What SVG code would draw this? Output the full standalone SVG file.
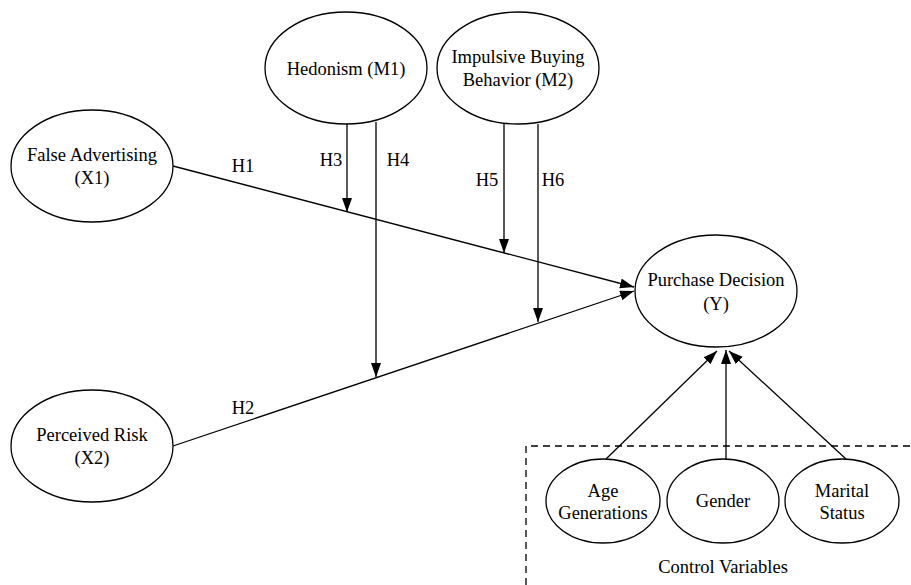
<svg xmlns="http://www.w3.org/2000/svg" width="911" height="585" viewBox="0 0 911 585" font-family="Liberation Serif, Times New Roman, serif">
<style>
.n{fill:#fff;stroke:#000;stroke-width:1.3}
.t{font-size:18.5px;fill:#000;text-anchor:middle}
.e{stroke:#000;stroke-width:1.3;fill:none;marker-end:url(#a)}
</style>
<defs>
<marker id="a" markerUnits="userSpaceOnUse" markerWidth="15" markerHeight="11" refX="14" refY="5" orient="auto">
<path d="M0,0 L14,5 L0,10 z" fill="#000"/>
</marker>
</defs>
<rect width="911" height="585" fill="#fff"/>
<g id="control-box">
<path d="M526,585 V446 H911" fill="none" stroke="#000" stroke-width="1.3" stroke-dasharray="7,5"/>
<text class="t" x="723" y="573">Control Variables</text>
</g>
<g id="connectors">
<path class="e" d="M173,166 L634,287"/>
<path class="e" d="M173,446 L634,291"/>
<path class="e" d="M347,124 V212"/>
<path class="e" d="M376,122 V377"/>
<path class="e" d="M504,124 V253"/>
<path class="e" d="M538,124 V322"/>
<path class="e" d="M606,459 L717,351"/>
<path class="e" d="M726,459 V350"/>
<path class="e" d="M846,459 L729,351"/>
<text class="t" x="243" y="172">H1</text>
<text class="t" x="243" y="414">H2</text>
<text class="t" x="331" y="166">H3</text>
<text class="t" x="398" y="166">H4</text>
<text class="t" x="487" y="186">H5</text>
<text class="t" x="553" y="186">H6</text>
</g>
<g id="hedonism">
<ellipse class="n" cx="346" cy="68" rx="81" ry="56"/>
<text class="t" x="346" y="75">Hedonism (M1)</text>
</g>
<g id="impulsive">
<ellipse class="n" cx="518" cy="68" rx="81" ry="56"/>
<text class="t" x="518" y="63">Impulsive Buying</text>
<text class="t" x="518" y="86">Behavior (M2)</text>
</g>
<g id="false-advertising">
<ellipse class="n" cx="92" cy="166" rx="81" ry="56"/>
<text class="t" x="92" y="161">False Advertising</text>
<text class="t" x="92" y="184">(X1)</text>
</g>
<g id="perceived-risk">
<ellipse class="n" cx="92" cy="446" rx="81" ry="56"/>
<text class="t" x="92" y="441">Perceived Risk</text>
<text class="t" x="92" y="464">(X2)</text>
</g>
<g id="purchase-decision">
<ellipse class="n" cx="716" cy="291" rx="81" ry="56"/>
<text class="t" x="716" y="286">Purchase Decision</text>
<text class="t" x="716" y="310">(Y)</text>
</g>
<g id="age">
<ellipse class="n" cx="603" cy="501" rx="57" ry="42"/>
<text class="t" x="603" y="497">Age</text>
<text class="t" x="603" y="519">Generations</text>
</g>
<g id="gender">
<ellipse class="n" cx="723" cy="501" rx="56" ry="42"/>
<text class="t" x="723" y="507">Gender</text>
</g>
<g id="marital">
<ellipse class="n" cx="842" cy="501" rx="57" ry="42"/>
<text class="t" x="842" y="497">Marital</text>
<text class="t" x="842" y="519">Status</text>
</g>
</svg>
